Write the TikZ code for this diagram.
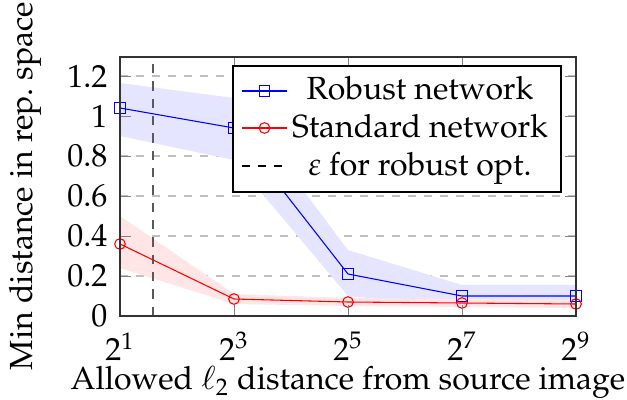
\documentclass[tikz,border=0pt]{standalone}
\usepackage[T1]{fontenc}
\usepackage{mathpazo}
\begin{document}
\begin{tikzpicture}[x=0.375pt,y=-0.375pt,
  every node/.style={font=\fontsize{12}{14.4}\selectfont},
  gridline/.style={black!25, thin, dashed},
  tickmark/.style={gray, very thin},
  frame/.style={black!80, line width=0.5pt},
  robline/.style={blue, line width=0.4pt},
  stdline/.style={red, line width=0.4pt},
  robmark/.style={draw=blue, line width=0.4pt, rectangle, minimum size=4pt, inner sep=0pt},
  stdmark/.style={draw=red, line width=0.4pt, circle, minimum size=4pt, inner sep=0pt},
  epsline/.style={black!65, line width=0.85pt, dash pattern=on 3.5pt off 3pt},
  legline/.style={black, line width=0.4pt, dashed},
  ticklab/.style={inner sep=0pt},
  legtext/.style={anchor=base, inner sep=0pt},
  ]
\useasboundingbox (0,0) rectangle (627,400);

% grid
\foreach \yy in {276,236,196,156,116,76}{
  \draw[gridline] (120,\yy) -- (576,\yy);
}

% bands
\fill[blue!10] (120,83) -- (234,98) -- (348,250) -- (462,285) -- (576,285)
  -- (576,307) -- (462,307) -- (348,296) -- (234,160) -- (120,136) -- cycle;
\fill[red!10] (120,216) -- (234,294) -- (348,298) -- (462,299) -- (576,300)
  -- (576,308) -- (462,307) -- (348,306) -- (234,304) -- (120,268) -- cycle;

% epsilon line
\coordinate (epsT) at (153.3,57);
\coordinate (epsB) at (153.3,316);
\draw[epsline] (epsB) -- (epsT);

% robust
\node[robmark] (r1) at (120,108) {};
\node[robmark] (r2) at (234,128) {};
\node[robmark] (r3) at (348,274) {};
\node[robmark] (r4) at (462,296) {};
\node[robmark] (r5) at (576,296) {};
\draw[robline] (r1.center) -- (r2.center) -- (r3.center) -- (r4.center) -- (r5.center);

% standard
\node[stdmark] (s1) at (120,244) {};
\node[stdmark] (s2) at (234,299) {};
\node[stdmark] (s3) at (348,302) {};
\node[stdmark] (s4) at (462,303) {};
\node[stdmark] (s5) at (576,304) {};
\draw[stdline] (s1.center) -- (s2.center) -- (s3.center) -- (s4.center) -- (s5.center);

% ticks
\foreach \xx in {120,234,348,462,576}{
  \draw[tickmark] (\xx,316) -- (\xx,305);
  \draw[tickmark] (\xx,57) -- (\xx,68);
}
\foreach \yy in {316,276,236,196,156,116,76}{
  \draw[tickmark] (120,\yy) -- (131,\yy);
  \draw[tickmark] (576,\yy) -- (565,\yy);
}

% frame
\node[frame, draw, inner sep=0pt, minimum width=171pt, minimum height=97.125pt] (axisbox) at (348,186.5) {};

% tick labels
\node[ticklab, anchor=north] (xt1) at (120,332) {$2^{1}$};
\node[ticklab, anchor=north] (xt3) at (234,332) {$2^{3}$};
\node[ticklab, anchor=north] (xt5) at (348,332) {$2^{5}$};
\node[ticklab, anchor=north] (xt7) at (462,332) {$2^{7}$};
\node[ticklab, anchor=north] (xt9) at (576,332) {$2^{9}$};

\node[ticklab, anchor=east] (yt0) at (108,316) {0};
\node[ticklab, anchor=east] (yt1) at (108,276) {0.2};
\node[ticklab, anchor=east] (yt2) at (108,236) {0.4};
\node[ticklab, anchor=east] (yt3) at (108,196) {0.6};
\node[ticklab, anchor=east] (yt4) at (108,156) {0.8};
\node[ticklab, anchor=east] (yt5) at (108,116) {1};
\node[ticklab, anchor=east] (yt6) at (108,76) {1.2};

% axis labels
\node[rotate=90, inner sep=0pt] (ylab) at (25,186) {Min distance in rep.\ space};
\node[anchor=base, inner sep=0pt] (xlab) at (348,390) {Allowed $\ell_2$ distance from source image};

% legend
\node[draw=black, fill=white, line width=0.4pt, inner sep=0pt, minimum width=123pt, minimum height=47.25pt] (legbox) at (397,129) {};
\coordinate (la1) at (242,91);  \coordinate (lb1) at (287,91);
\coordinate (la2) at (242,128); \coordinate (lb2) at (287,128);
\coordinate (la3) at (242,166); \coordinate (lb3) at (287,166);
\draw[robline] (la1) -- (lb1);
\node[robmark] (lm1) at (264.5,91) {};
\draw[stdline] (la2) -- (lb2);
\node[stdmark] (lm2) at (264.5,128) {};
\draw[legline] (la3) -- (lb3);
\node[legtext] (lt1) at (420,100) {Robust network};
\node[legtext] (lt2) at (420,138) {Standard network};
\node[legtext] (lt3) at (420,175) {$\varepsilon$ for robust opt.};
\end{tikzpicture}
\end{document}
